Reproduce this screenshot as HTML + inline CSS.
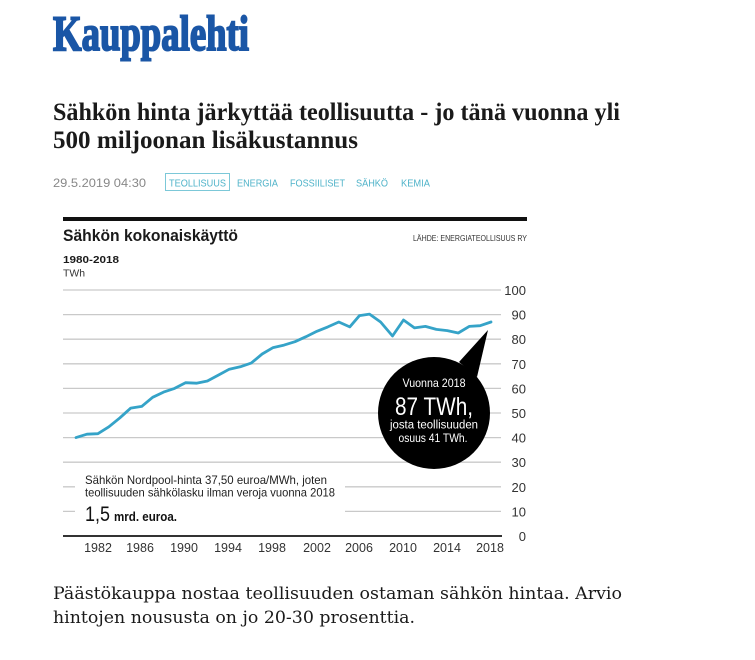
<!DOCTYPE html>
<html>
<head>
<meta charset="utf-8">
<style>
  html, body { margin:0; padding:0; background:#fff; }
  svg { display:block; }
  .sans { font-family: "Liberation Sans", "DejaVu Sans", sans-serif; }
  .serif { font-family: "Liberation Serif", "DejaVu Serif", serif; }
  .dserif { font-family: "DejaVu Serif", "Liberation Serif", serif; }
</style>
</head>
<body>
<svg width="755" height="660" viewBox="0 0 755 660" xmlns="http://www.w3.org/2000/svg">
  <rect x="0" y="0" width="755" height="660" fill="#ffffff"/>

  <!-- Logo -->
  <text x="53" y="50" class="serif" font-size="50" font-weight="bold" fill="#1a56a6" stroke="#1a56a6" stroke-width="2" textLength="196" lengthAdjust="spacingAndGlyphs">Kauppalehti</text>

  <!-- Headline -->
  <text x="53" y="120" class="serif" font-size="25" font-weight="bold" fill="#1a1a1a" textLength="567" lengthAdjust="spacingAndGlyphs">Sähkön hinta järkyttää teollisuutta - jo tänä vuonna yli</text>
  <text x="53" y="148" class="serif" font-size="25" font-weight="bold" fill="#1a1a1a" textLength="305" lengthAdjust="spacingAndGlyphs">500 miljoonan lisäkustannus</text>

  <!-- Meta line -->
  <text x="53" y="187" class="sans" font-size="12" fill="#888" textLength="93" lengthAdjust="spacingAndGlyphs">29.5.2019 04:30</text>
  <rect x="165.5" y="173.5" width="64" height="17" fill="none" stroke="#7cc8d8" stroke-width="1"/>
  <text x="169" y="186.5" class="sans" font-size="10.5" fill="#4fb3c9" textLength="57" lengthAdjust="spacingAndGlyphs">TEOLLISUUS</text>
  <text x="237" y="186.5" class="sans" font-size="10.5" fill="#4fb3c9" textLength="41" lengthAdjust="spacingAndGlyphs">ENERGIA</text>
  <text x="290" y="186.5" class="sans" font-size="10.5" fill="#4fb3c9" textLength="55" lengthAdjust="spacingAndGlyphs">FOSSIILISET</text>
  <text x="356" y="186.5" class="sans" font-size="10.5" fill="#4fb3c9" textLength="32" lengthAdjust="spacingAndGlyphs">SÄHKÖ</text>
  <text x="401" y="186.5" class="sans" font-size="10.5" fill="#4fb3c9" textLength="29" lengthAdjust="spacingAndGlyphs">KEMIA</text>

  <!-- Chart top bar -->
  <rect x="63" y="217" width="464" height="4" fill="#111"/>
  <text x="63" y="241" class="sans" font-size="17" font-weight="bold" fill="#1a1a1a" textLength="175" lengthAdjust="spacingAndGlyphs">Sähkön kokonaiskäyttö</text>
  <text x="527" y="241" class="sans" font-size="8" fill="#333" text-anchor="end" textLength="114" lengthAdjust="spacingAndGlyphs">LÄHDE: ENERGIATEOLLISUUS RY</text>
  <text x="63" y="263" class="sans" font-size="10.5" font-weight="bold" fill="#1a1a1a" textLength="56" lengthAdjust="spacingAndGlyphs">1980-2018</text>
  <text x="63" y="276.5" class="sans" font-size="10.5" fill="#333" textLength="22" lengthAdjust="spacingAndGlyphs">TWh</text>

  <!-- Gridlines -->
  <g stroke="#c9c9c9" stroke-width="1.3">
    <line x1="63" y1="290" x2="501" y2="290"/>
    <line x1="63" y1="314.6" x2="501" y2="314.6"/>
    <line x1="63" y1="339.2" x2="501" y2="339.2"/>
    <line x1="63" y1="363.8" x2="501" y2="363.8"/>
    <line x1="63" y1="388.4" x2="501" y2="388.4"/>
    <line x1="63" y1="413" x2="501" y2="413"/>
    <line x1="63" y1="437.6" x2="501" y2="437.6"/>
    <line x1="63" y1="462.2" x2="501" y2="462.2"/>
    <line x1="63" y1="486.8" x2="501" y2="486.8"/>
    <line x1="63" y1="511.4" x2="501" y2="511.4"/>
  </g>

  <!-- Y labels -->
  <g class="sans" font-size="13" fill="#333" text-anchor="end">
    <text x="526" y="295">100</text>
    <text x="526" y="319.6">90</text>
    <text x="526" y="344.2">80</text>
    <text x="526" y="368.8">70</text>
    <text x="526" y="393.4">60</text>
    <text x="526" y="418">50</text>
    <text x="526" y="442.6">40</text>
    <text x="526" y="467.2">30</text>
    <text x="526" y="491.8">20</text>
    <text x="526" y="516.4">10</text>
    <text x="526" y="541">0</text>
  </g>

  <!-- Note box -->
  <rect x="75" y="467" width="270" height="62" fill="#ffffff"/>
  <text x="85" y="484" class="sans" font-size="12" fill="#222" textLength="242" lengthAdjust="spacingAndGlyphs">Sähkön Nordpool-hinta 37,50 euroa/MWh, joten</text>
  <text x="85" y="496.5" class="sans" font-size="12" fill="#222" textLength="250" lengthAdjust="spacingAndGlyphs">teollisuuden sähkölasku ilman veroja vuonna 2018</text>
  <text x="85" y="521" class="sans" font-size="21" fill="#111" textLength="25" lengthAdjust="spacingAndGlyphs">1,5</text>
  <text x="114" y="521" class="sans" font-size="12.5" font-weight="bold" fill="#111" textLength="63" lengthAdjust="spacingAndGlyphs">mrd. euroa.</text>

  <!-- Axis line -->
  <line x1="63" y1="536" x2="502" y2="536" stroke="#333" stroke-width="2"/>

  <!-- X labels -->
  <g class="sans" font-size="12.5" fill="#333" text-anchor="middle">
    <text x="98" y="552">1982</text>
    <text x="140" y="552">1986</text>
    <text x="184" y="552">1990</text>
    <text x="228" y="552">1994</text>
    <text x="272" y="552">1998</text>
    <text x="317" y="552">2002</text>
    <text x="359" y="552">2006</text>
    <text x="403" y="552">2010</text>
    <text x="447" y="552">2014</text>
    <text x="490" y="552">2018</text>
  </g>

  <!-- Data line -->
  <polyline fill="none" stroke="#35a3c8" stroke-width="2.8" stroke-linejoin="round" stroke-linecap="round"
    points="76,437.6 86.95,434.2 97.9,433.7 108.85,426.8 119.8,417.9 130.75,408.1 141.7,406.4 152.65,397.3 163.6,392.1 174.55,388.4 185.5,382.7 196.45,383.2 207.4,381 218.35,375.1 229.3,369.2 240.25,366.8 251.2,363.1 262.15,354 273.1,347.6 284.05,345.1 295,341.7 305.95,336.7 316.9,331.3 327.85,326.9 338.8,322 349.75,326.9 359.5,315.6 369.5,314.1 380.6,322 392.5,336 403.5,320 414.45,327.9 425.4,326.4 436.35,329.4 447.3,330.6 458.25,333 469.2,326.4 480.15,325.7 491,322"/>

  <!-- Bubble -->
  <path d="M488,330 L459,362 L477,377 Z" fill="#000"/>
  <circle cx="434" cy="413" r="56" fill="#000"/>
  <text x="434" y="387" class="sans" font-size="12" fill="#fff" text-anchor="middle" textLength="63" lengthAdjust="spacingAndGlyphs">Vuonna 2018</text>
  <text x="434" y="415" class="sans" font-size="25" fill="#fff" text-anchor="middle" textLength="78" lengthAdjust="spacingAndGlyphs">87 TWh,</text>
  <text x="434" y="428.5" class="sans" font-size="11.5" fill="#fff" text-anchor="middle" textLength="88" lengthAdjust="spacingAndGlyphs">josta teollisuuden</text>
  <text x="433" y="442" class="sans" font-size="11.5" fill="#fff" text-anchor="middle" textLength="69" lengthAdjust="spacingAndGlyphs">osuus 41 TWh.</text>

  <!-- Body text -->
  <text x="53" y="599" class="dserif" font-size="17" fill="#1a1a1a" textLength="569" lengthAdjust="spacingAndGlyphs">Päästökauppa nostaa teollisuuden ostaman sähkön hintaa. Arvio</text>
  <text x="53" y="623" class="dserif" font-size="17" fill="#1a1a1a" textLength="362" lengthAdjust="spacingAndGlyphs">hintojen noususta on jo 20-30 prosenttia.</text>
</svg>
</body>
</html>
